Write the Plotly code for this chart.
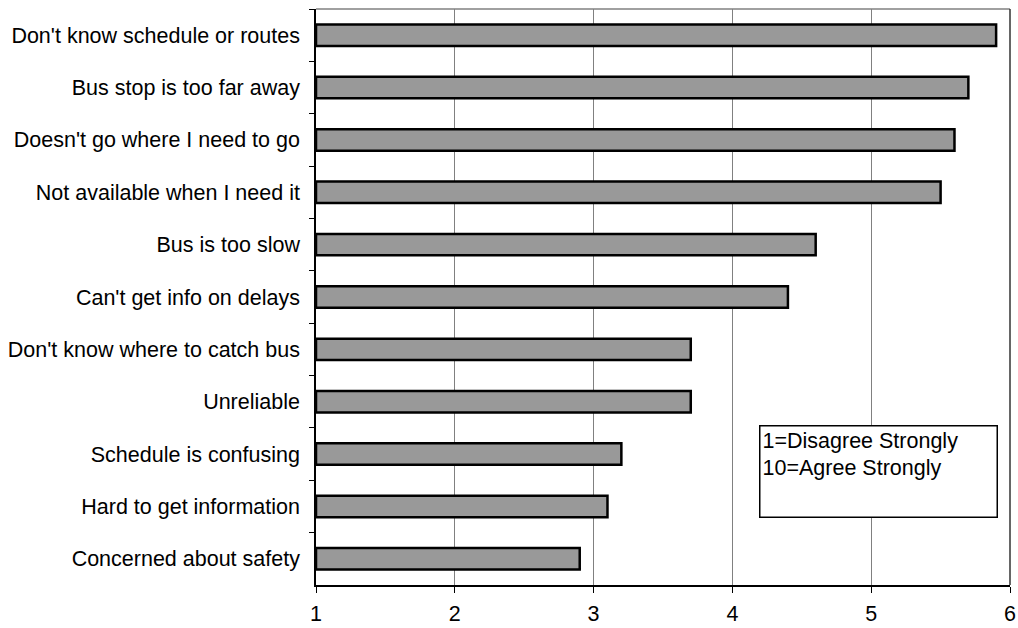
import plotly.graph_objects as go

# Survey reasons for not riding the bus, mean rating (1-10 scale)
reasons = [
    "Don't know schedule or routes",
    "Bus stop is too far away",
    "Doesn't go where I need to go",
    "Not available when I need it",
    "Bus is too slow",
    "Can't get info on delays",
    "Don't know where to catch bus",
    "Unreliable",
    "Schedule is confusing",
    "Hard to get information",
    "Concerned about safety",
]
ratings = [5.9, 5.7, 5.6, 5.5, 4.6, 4.4, 3.7, 3.7, 3.2, 3.1, 2.9]

x_ticks = [1, 2, 3, 4, 5, 6]
scale_note = ["1=Disagree Strongly", "10=Agree Strongly"]

axis_start = x_ticks[0]
FONT = "Arial, Liberation Sans, sans-serif"
FS = 21.5

fig = go.Figure(
    go.Bar(
        y=reasons,
        x=[r - axis_start for r in ratings],
        base=axis_start,
        orientation="h",
        width=0.41,
        marker=dict(color="#999999", line=dict(color="#000000", width=2.5)),
        hoverinfo="skip",
    )
)

fig.update_layout(
    width=1018,
    height=628,
    margin=dict(l=316, r=8, t=9, b=43, autoexpand=False),
    paper_bgcolor="white",
    plot_bgcolor="white",
    showlegend=False,
    font=dict(family=FONT, size=FS, color="black"),
    bargap=0.59,
)

fig.update_xaxes(
    range=[x_ticks[0], x_ticks[-1]],
    tickvals=x_ticks,
    ticktext=[str(t) for t in x_ticks],
    ticks="outside",
    ticklen=6,
    tickcolor="black",
    tickwidth=1,
    showgrid=True,
    gridcolor="#808080",
    gridwidth=1,
    showline=True,
    linecolor="black",
    linewidth=1.5,
    zeroline=False,
    automargin=False,
    ticklabelstandoff=2,
    tickfont=dict(family=FONT, size=FS, color="black"),
)

fig.update_yaxes(
    categoryorder="array",
    categoryarray=reasons,
    autorange="reversed",
    ticks="outside",
    tickson="boundaries",
    ticklen=5,
    tickcolor="black",
    tickwidth=1,
    showgrid=False,
    showline=True,
    linecolor="black",
    linewidth=1.5,
    automargin=False,
    ticklabelstandoff=10,
    tickfont=dict(family=FONT, size=FS, color="black"),
)

# Plot-area frame: top and right edges
fig.add_shape(type="line", xref="paper", yref="paper", x0=0, x1=1, y0=1, y1=1,
              line=dict(color="#808080", width=1.5), layer="above")
fig.add_shape(type="line", xref="paper", yref="paper", x0=1, x1=1, y0=0, y1=1,
              line=dict(color="#333333", width=1.5), layer="above")

# Scale explanation box
fig.add_annotation(
    xref="paper", yref="paper",
    x=0.638, y=0.278,
    xanchor="left", yanchor="top",
    text="<br>".join(scale_note),
    showarrow=False,
    align="left",
    valign="top",
    width=232,
    height=86,
    borderpad=2,
    bordercolor="black",
    borderwidth=1.5,
    bgcolor="white",
    font=dict(family=FONT, size=FS, color="black"),
)

fig.write_html("out.html")
